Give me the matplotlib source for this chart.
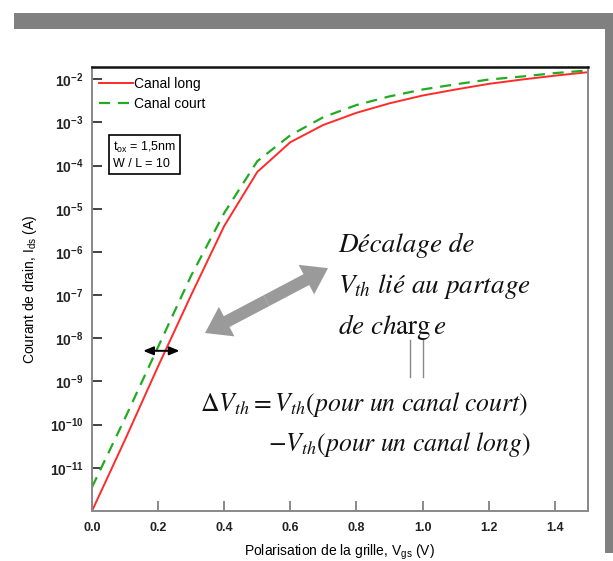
import numpy as np
import matplotlib
matplotlib.use("Agg")
import matplotlib.pyplot as plt
from matplotlib.patches import Rectangle, FancyArrowPatch

plt.rcParams['font.family'] = ['Liberation Sans', 'DejaVu Sans']
plt.rcParams['mathtext.fontset'] = 'stix'

# tension de grille (V) et log10 du courant de drain (A)
vgs = [0.0, 0.1, 0.2, 0.3, 0.4, 0.5, 0.6, 0.7, 0.8, 0.9, 1.0, 1.1, 1.2, 1.3, 1.4, 1.5]
log_ids_long = [-12.0, -10.35, -8.65, -7.0, -5.4, -4.15, -3.46, -3.06, -2.78, -2.56,
                -2.38, -2.24, -2.11, -2.01, -1.92, -1.84]
log_ids_court = [-11.45, -9.85, -8.2, -6.55, -5.1, -3.9, -3.3, -2.88, -2.6, -2.4,
                 -2.24, -2.12, -2.01, -1.94, -1.86, -1.80]

x_ticks = [0.0, 0.2, 0.4, 0.6, 0.8, 1.0, 1.2, 1.4]
y_exps = [-2, -3, -4, -5, -6, -7, -8, -9, -10, -11]

ids_long = 10.0 ** np.array(log_ids_long)
ids_court = 10.0 ** np.array(log_ids_court)

fig = plt.figure(figsize=(6.13, 5.61), dpi=100)
ax = fig.add_axes([0.150, 0.089, 0.809, 0.7915])

ax.plot(vgs, ids_long, color='#ff2a2a', lw=1.4, label='Canal long')
ax.plot(vgs, ids_court, color='#22aa22', lw=1.6, ls=(0, (5, 3.5)), label='Canal court')

ax.set_yscale('log')
ax.set_xlim(0, 1.5)
ax.set_ylim(1e-12, 10 ** -1.72)

ax.set_xticks(x_ticks)
ax.set_xticklabels([f'{t:.1f}' for t in x_ticks], fontsize=9, fontweight='bold')
ax.set_yticks([10.0 ** e for e in y_exps])
ax.set_yticklabels([f'$\\mathregular{{10^{{{e}}}}}$' for e in y_exps],
                   fontsize=10, fontweight='bold')
ax.yaxis.set_minor_locator(matplotlib.ticker.NullLocator())
ax.tick_params(axis='both', direction='in', length=7, width=1.2, colors='#222222')
ax.tick_params(axis='x', color='#777777', pad=8)
ax.tick_params(axis='y', pad=6)

for side in ['left', 'right', 'bottom']:
    ax.spines[side].set_color('#888888')
    ax.spines[side].set_linewidth(1.4)
ax.spines['top'].set_color('#111111')
ax.spines['top'].set_linewidth(1.8)

ax.set_xlabel(r'Polarisation de la grille, $\mathregular{V_{gs}}$ (V)', fontsize=10, labelpad=6)
ax.set_ylabel(r'Courant de drain, $\mathregular{I_{ds}}$ (A)', fontsize=10, labelpad=8)

leg = ax.legend(loc='upper left', frameon=False, fontsize=10, handlelength=2.4,
                handletextpad=0.1, borderaxespad=0.3, labelspacing=0.45,
                bbox_to_anchor=(-0.005, 1.0))

ax.text(0.042, 0.835, '$\\mathregular{t_{ox}}$ = 1,5nm\nW / L = 10', transform=ax.transAxes,
        fontsize=9, va='top', ha='left', linespacing=1.3,
        bbox=dict(boxstyle='square,pad=0.3', fc='white', ec='black', lw=1.2))

# petite double flèche entre les deux courbes
ax.annotate('', xy=(0.155, 10 ** -8.29), xytext=(0.265, 10 ** -8.29),
            arrowprops=dict(arrowstyle='<|-|>,head_length=0.6,head_width=0.25',
                            color='black', lw=1.4, shrinkA=0, shrinkB=0))

# grosse flèche grise double
mid = (0.352, 0.474)
for tip in [(0.228, 0.401), (0.476, 0.547)]:
    ax.add_patch(FancyArrowPatch(mid, tip, transform=ax.transAxes,
                                 arrowstyle='simple,head_length=1.1,head_width=1.5,tail_width=0.55',
                                 mutation_scale=16, color='#9a9a9a', lw=0,
                                 shrinkA=0, shrinkB=0))

serif = dict(family='STIXGeneral', style='italic', fontsize=19.5, transform=ax.transAxes,
             va='center', ha='left', color='#111111')
ax.text(0.496, 0.599, 'Décalage de', **serif)
ax.text(0.496, 0.505, r'$V_{th}$ lié au partage', **serif)
ax.text(0.496, 0.414, r'$de\ ch\arg e$', **serif)

for xl in [0.641, 0.667]:
    ax.plot([xl, xl], [0.302, 0.385], transform=ax.transAxes, color='#888888', lw=1)

serif['fontsize'] = 18.5
ax.text(0.218, 0.239, r'$\Delta V_{th} = V_{th}(pour\ un\ canal\ court)$', **serif)
ax.text(0.355, 0.149, r'$-V_{th}(pour\ un\ canal\ long)$', **serif)

# cadre gris
fig.add_artist(Rectangle((14 / 613, 1 - 29 / 561), 1, 16 / 561, transform=fig.transFigure,
                         color='#808080', lw=0))
fig.add_artist(Rectangle((605 / 613, 1 - 553 / 561), 8 / 613, 524 / 561,
                         transform=fig.transFigure, color='#808080', lw=0))

fig.savefig('out.png', dpi=100)
